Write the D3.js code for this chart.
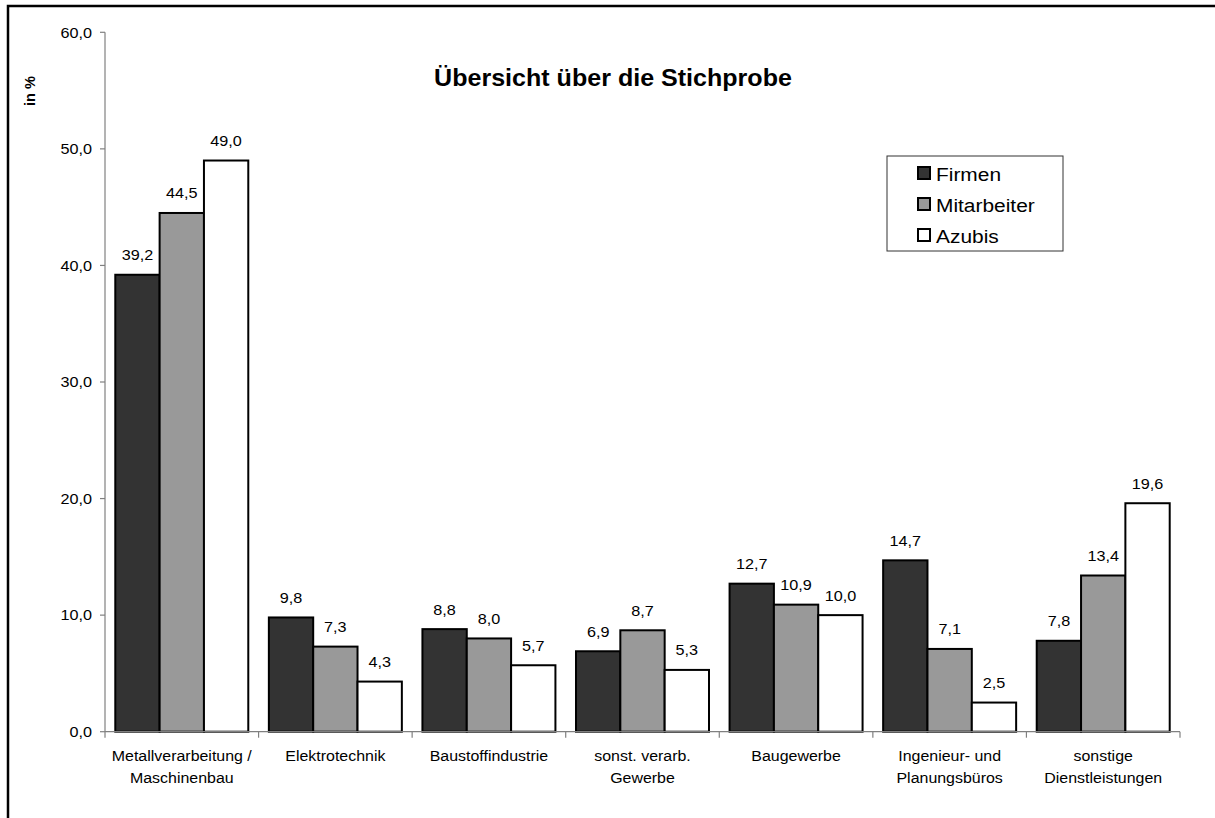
<!DOCTYPE html>
<html>
<head>
<meta charset="utf-8">
<script src="https://cdn.jsdelivr.net/npm/d3@7/dist/d3.min.js"></script>
<style>
  html, body { margin: 0; padding: 0; background: #fff; }
  svg { display: block; font-family: "Liberation Sans", Arial, sans-serif; }
</style>
</head>
<body>
<svg id="chart" width="1215" height="818"></svg>
<script>
// Sector breakdown of the sample (percent)
const categories = [
  "Metallverarbeitung /\nMaschinenbau",
  "Elektrotechnik",
  "Baustoffindustrie",
  "sonst. verarb.\nGewerbe",
  "Baugewerbe",
  "Ingenieur- und\nPlanungsbüros",
  "sonstige\nDienstleistungen"
];
const seriesNames = ["Firmen", "Mitarbeiter", "Azubis"];
const firmen      = [39.2, 9.8, 8.8, 6.9, 12.7, 14.7, 7.8];
const mitarbeiter = [44.5, 7.3, 8.0, 8.7, 10.9, 7.1, 13.4];
const azubis      = [49.0, 4.3, 5.7, 5.3, 10.0, 2.5, 19.6];
const yTicks = [0, 10, 20, 30, 40, 50, 60];
const titleText = "Übersicht über die Stichprobe";
const yLabel = "in %";

const seriesValues = [firmen, mitarbeiter, azubis];
const fills = ["#333333", "#999999", "#ffffff"];
const fmt = v => v.toFixed(1).replace(".", ",");

const svg = d3.select("#chart");

// outer frame
svg.append("rect")
  .attr("x", 8).attr("y", 6)
  .attr("width", 1240).attr("height", 840)
  .attr("fill", "none").attr("stroke", "#000").attr("stroke-width", 2.5);

const plot = { left: 105, right: 1180, top: 32.3, bottom: 731.7 };

const x0 = d3.scaleBand()
  .domain(categories)
  .range([plot.left, plot.right])
  .paddingInner(0.134)
  .paddingOuter(0.067);

const x1 = d3.scaleBand()
  .domain(seriesNames)
  .range([0, x0.bandwidth()]);

const y = d3.scaleLinear().domain([0, 60]).range([plot.bottom, plot.top]);

// stretched text helper
function stext(g, x, yy, txt, size, sx, anchor, weight) {
  return g.append("text")
    .attr("transform", `translate(${x},${yy}) scale(${sx},1)`)
    .attr("text-anchor", anchor)
    .attr("font-size", size)
    .attr("font-weight", weight || "normal")
    .attr("fill", "#000")
    .text(txt);
}

// y axis
const yAxis = svg.append("g");
yAxis.append("line")
  .attr("x1", plot.left).attr("x2", plot.left)
  .attr("y1", y(60)).attr("y2", y(0))
  .attr("stroke", "#808080").attr("stroke-width", 1.2);
yTicks.forEach(t => {
  yAxis.append("line")
    .attr("x1", plot.left - 5).attr("x2", plot.left)
    .attr("y1", y(t)).attr("y2", y(t))
    .attr("stroke", "#808080").attr("stroke-width", 1.2);
  stext(yAxis, 92, y(t) + 5.3, fmt(t), 15, 1.08, "end");
});

// bars
const groups = svg.append("g").selectAll("g")
  .data(categories)
  .join("g")
  .attr("transform", d => `translate(${x0(d)},0)`);

groups.each(function(cat, ci) {
  const g = d3.select(this);
  seriesNames.forEach((s, si) => {
    const v = seriesValues[si][ci];
    g.append("rect")
      .attr("x", x1(s))
      .attr("y", y(v))
      .attr("width", x1.bandwidth())
      .attr("height", y(0) - y(v))
      .attr("fill", fills[si])
      .attr("stroke", "#000")
      .attr("stroke-width", 2);
    stext(g, x1(s) + x1.bandwidth() / 2, y(v) - 14.5, fmt(v), 15, 1.08, "middle");
  });
});

// x axis
const xAxis = svg.append("g");
xAxis.append("line")
  .attr("x1", plot.left).attr("x2", plot.right)
  .attr("y1", plot.bottom).attr("y2", plot.bottom)
  .attr("stroke", "#808080").attr("stroke-width", 1.2);
const step = x0.step();
d3.range(categories.length + 1).forEach(i => {
  const xx = plot.left + i * step;
  xAxis.append("line")
    .attr("x1", xx).attr("x2", xx)
    .attr("y1", plot.bottom).attr("y2", plot.bottom + 6)
    .attr("stroke", "#808080").attr("stroke-width", 1.2);
});
categories.forEach(cat => {
  const cx = x0(cat) + x0.bandwidth() / 2;
  cat.split("\n").forEach((line, li) => {
    stext(xAxis, cx, 761 + li * 21.5, line, 14.5, 1.1, "middle");
  });
});

// title
stext(svg, 613, 86, titleText, 23, 1.09, "middle", "bold");

// y axis label
svg.append("text")
  .attr("transform", "translate(35,91) rotate(-90)")
  .attr("text-anchor", "middle")
  .attr("font-size", 14.5)
  .attr("font-weight", "bold")
  .text(yLabel);

// legend
const legend = svg.append("g");
legend.append("rect")
  .attr("x", 887).attr("y", 156)
  .attr("width", 176).attr("height", 95)
  .attr("fill", "#fff").attr("stroke", "#333").attr("stroke-width", 1);
seriesNames.forEach((s, i) => {
  const yy = 167 + i * 31;
  legend.append("rect")
    .attr("x", 918).attr("y", yy)
    .attr("width", 12).attr("height", 12)
    .attr("fill", fills[i]).attr("stroke", "#000").attr("stroke-width", 2);
  stext(legend, 936, yy + 13.7, s, 19, 1.1, "start");
});
</script>
</body>
</html>
